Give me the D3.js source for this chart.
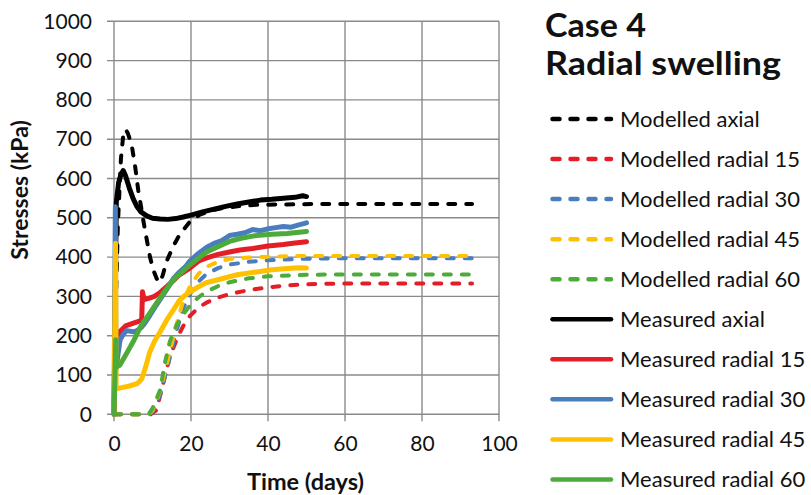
<!DOCTYPE html>
<html><head><meta charset="utf-8">
<script src="https://cdn.jsdelivr.net/npm/d3@7"></script>
<style>
body{margin:0;background:#fff}
svg{display:block}
text{font-family:Lato,'Open Sans',sans-serif;fill:#111}
</style>
</head><body>
<svg id="chart" width="811" height="495"></svg>
<script>
// ---------- DATA (days, kPa) ----------
const xTickValues = [0, 20, 40, 60, 80, 100];
const yTickValues = [0, 100, 200, 300, 400, 500, 600, 700, 800, 900, 1000];
const titleLines = ["Case 4", "Radial swelling"];
const xLabel = "Time (days)";
const yLabel = "Stresses (kPa)";
const seriesNames = ["Modelled axial", "Modelled radial 15", "Modelled radial 30", "Modelled radial 45", "Modelled radial 60",
  "Measured axial", "Measured radial 15", "Measured radial 30", "Measured radial 45", "Measured radial 60"];

const modelledAxial = [[0,0],[0.4,250],[1,480],[1.8,650],[2.4,710],[3,725],[3.6,715],[4.6,685],[5.5,630],[6.3,570],[7,530],[7.6,494],[8.5,445],[9.4,398],[10.3,365],[11.1,345],[11.8,335],[12.6,352],[13.7,390],[15.4,428],[17.1,458],[19.7,490],[22.3,508],[24.1,514],[26,520],[28.4,525],[32.7,530],[37,533],[45,534],[52,535],[93,535]];
const modelledRadial15 = [[0,0],[9.5,0],[11,10],[12.8,79],[14.5,147],[16.7,200],[18,225],[19.7,250],[22,272],[24,284],[27,297],[30,306],[35,316],[40,323],[45,328],[50,331],[60,333],[93,333]];
const modelledRadial30 = [[0,0],[9,0],[10,5],[12,50],[14,125],[16,205],[18,270],[20,310],[22,338],[24,357],[27,372],[30,381],[35,388],[40,392],[50,396],[60,397],[93,397]];
const modelledRadial45 = [[0,0],[9,0],[10,10],[12,60],[14,140],[16,220],[18,290],[20,330],[22,358],[24,375],[27,388],[30,395],[35,399],[40,401],[50,403],[93,403]];
const modelledRadial60 = [[0,0],[9,0],[10,15],[12,62],[13.2,130],[14.5,185],[16.3,228],[18,255],[20,280],[22,298],[24,312],[27,326],[30,336],[35,346],[40,351],[50,355],[60,356],[93,356]];

const measuredAxial = [[0,0],[0.6,540],[1.2,590],[1.8,610],[2.4,620],[3,607],[4,575],[5,548],[6,528],[7,515],[8.5,505],[10,499],[12,497],[14,496],[16,498],[18,502],[20,507],[23,515],[26,522],[29,529],[32,535],[35,540],[38,545],[41,547],[44,550],[47,552],[49,556],[50,554]];
const measuredRadial15 = [[0,0],[0.4,200],[0.8,200],[1.5,210],[3,225],[4.5,230],[6,235],[7.2,240],[7.4,312],[7.8,292],[9,295],[10.5,300],[12,310],[13.7,325],[15.4,340],[17,355],[19.7,372],[22,390],[24.1,398],[27,407],[30,413],[32.7,418],[36,422],[40,428],[44,432],[47,436],[50,439]];
const measuredRadial30 = [[0,0],[0.35,528],[0.5,113],[1,150],[1.6,190],[2.5,205],[3.3,213],[5,210],[6,213],[7,220],[8,232],[9.35,252],[11,278],[13.7,318],[15.4,345],[17,362],[18.5,375],[19.7,390],[22,410],[24.1,425],[26,435],[28,442],[30,455],[32,458],[34,462],[36,470],[38,467],[40,472],[42,475],[44,478],[46,476],[48,482],[50,487]];
const measuredRadial45 = [[0,0],[0.4,435],[0.55,65],[2,68],[4,72],[6,78],[7.2,90],[8.2,120],[9.35,160],[10.5,185],[12,210],[13.7,240],[15.4,265],[17,290],[18.5,303],[20,313],[21.5,322],[24,335],[28,345],[32,355],[37,362],[41,368],[45,371],[48,373],[50,372]];
const measuredRadial60 = [[0,0],[0.45,190],[0.7,121],[1.5,125],[3,150],[5,185],[7,225],[9.35,258],[11,282],[13.7,320],[16,348],[18,365],[19.7,380],[22.3,400],[24.1,413],[26.7,425],[30,440],[33,448],[37,455],[41,458],[45,460],[48,463],[50,465]];

const seriesData = [modelledAxial, modelledRadial15, modelledRadial30, modelledRadial45, modelledRadial60,
  measuredAxial, measuredRadial15, measuredRadial30, measuredRadial45, measuredRadial60];

// ---------- STYLE ----------
const seriesColors = ["#000000", "#e41e26", "#4a7dbd", "#ffc000", "#4dab3a",
  "#000000", "#e41e26", "#4a7dbd", "#ffc000", "#4dab3a"];
const seriesDashed = [true, true, true, true, true, false, false, false, false, false];
const titleWidths = [101, 236];

// ---------- LAYOUT ----------
const svg = d3.select("#chart");
const plot = {left: 114, right: 499, top: 21.3, bottom: 414.3};
const x = d3.scaleLinear().domain([0, 100]).range([plot.left, plot.right]);
const y = d3.scaleLinear().domain([0, 1000]).range([plot.bottom, plot.top]);
const gridColor = "#8a8a8a";

// gridlines
const grid = svg.append("g");
grid.selectAll("line.h").data(yTickValues).join("line")
  .attr("x1", plot.left - 7).attr("x2", plot.right)
  .attr("y1", d => y(d)).attr("y2", d => y(d))
  .attr("stroke", gridColor).attr("stroke-width", 1.4);
grid.selectAll("line.v").data(xTickValues).join("line")
  .attr("x1", d => x(d)).attr("x2", d => x(d))
  .attr("y1", plot.top).attr("y2", plot.bottom + 7)
  .attr("stroke", gridColor).attr("stroke-width", 1.4);

// axes (labels only)
const yAxis = d3.axisLeft(y).tickValues(yTickValues).tickSize(0).tickPadding(22).tickFormat(d3.format("d"));
const gy = svg.append("g").attr("transform", `translate(${plot.left},0)`).call(yAxis);
gy.select(".domain").remove();
gy.selectAll("text").style("font-size", "21px").attr("fill", "#111");

const xAxis = d3.axisBottom(x).tickValues(xTickValues).tickSize(0).tickPadding(22).tickFormat(d3.format("d"));
const gx = svg.append("g").attr("transform", `translate(0,${plot.bottom})`).call(xAxis);
gx.select(".domain").remove();
gx.selectAll("text").style("font-size", "21px").attr("fill", "#111");

// series
const line = d3.line().x(d => x(d[0])).y(d => y(d[1]));
seriesData.forEach((data, i) => {
  svg.append("path").datum(data)
    .attr("d", line)
    .attr("fill", "none")
    .attr("stroke", seriesColors[i])
    .attr("stroke-width", seriesDashed[i] ? 4 : 5)
    .attr("stroke-linejoin", "round")
    .attr("stroke-linecap", "round")
    .attr("stroke-dasharray", seriesDashed[i] ? "7,11" : null);
});

// axis titles
svg.append("text").attr("x", (plot.left + plot.right) / 2 - 1).attr("y", 490)
  .attr("text-anchor", "middle").style("font-size", "23.5px").style("font-weight", "bold").text(xLabel);
svg.append("text").attr("transform", "translate(28,190) rotate(-90)")
  .attr("text-anchor", "middle").style("font-size", "23px").style("font-weight", "bold").text(yLabel);

// title
titleLines.forEach((t, i) => {
  svg.append("text").attr("x", 545).attr("y", 37 + i * 38)
    .attr("textLength", titleWidths[i]).attr("lengthAdjust", "spacingAndGlyphs")
    .style("font-size", "32px").style("font-weight", "bold").text(t);
});

// legend
const legend = svg.append("g");
seriesNames.forEach((name, i) => {
  const ly = 119 + i * 40.05;
  legend.append("line").attr("x1", 552.5).attr("x2", 611).attr("y1", ly).attr("y2", ly)
    .attr("stroke", seriesColors[i]).attr("stroke-width", 4.5)
    .attr("stroke-linecap", "round")
    .attr("stroke-dasharray", seriesDashed[i] ? "7,11" : null);
  legend.append("text").attr("x", 620).attr("y", ly + 7.8)
    .style("font-size", "22px").text(name);
});
</script>
</body></html>
